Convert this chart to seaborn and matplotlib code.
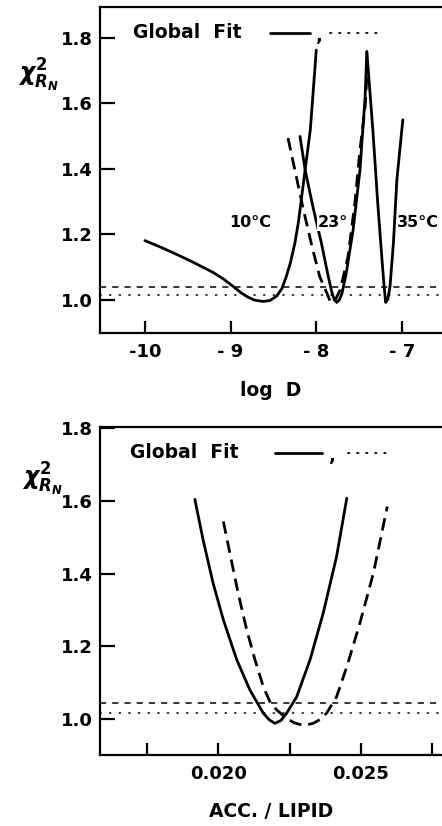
import numpy as np
import pandas as pd
import matplotlib
matplotlib.use("Agg")
import matplotlib.pyplot as plt
import seaborn as sns

# --- data -------------------------------------------------------------------
# top panel: chi^2 vs log D at three temperatures
logd_10 = [-10.00, -9.80, -9.59, -9.40, -9.20, -9.08, -8.97, -8.88, -8.81, -8.72, -8.62,
           -8.54, -8.46, -8.40, -8.35, -8.30, -8.25, -8.21, -8.18, -8.13, -8.07, -8.035, -8.00]
chi_10 = [1.181, 1.159, 1.134, 1.110, 1.083, 1.063, 1.041, 1.022, 1.010, 0.999, 0.995,
          0.998, 1.012, 1.035, 1.071, 1.115, 1.173, 1.235, 1.295, 1.397, 1.519, 1.640, 1.763]

logd_23 = [-8.19, -8.13, -8.04, -7.94, -7.86, -7.82, -7.79, -7.76, -7.73, -7.70,
           -7.65, -7.57, -7.49, -7.43, -7.41]
chi_23 = [1.499, 1.397, 1.285, 1.173, 1.071, 1.025, 1.000, 0.992, 1.000, 1.020,
          1.082, 1.214, 1.397, 1.621, 1.758]

logd_23_dash = [-8.33, -8.25, -8.15, -8.05, -7.96, -7.90, -7.86, -7.84, -7.81, -7.77,
                -7.72, -7.63, -7.55, -7.49, -7.43, -7.41]
chi_23_dash = [1.494, 1.397, 1.275, 1.163, 1.071, 1.035, 1.010, 0.996, 0.990, 1.004,
               1.031, 1.132, 1.295, 1.458, 1.590, 1.682]

logd_35 = [-7.41, -7.34, -7.28, -7.23, -7.21, -7.19, -7.165, -7.14, -7.10, -7.06, -6.99]
chi_35 = [1.758, 1.519, 1.285, 1.112, 1.045, 0.992, 1.002, 1.040, 1.173, 1.366, 1.550]

temp_labels = ["10°C", "23°", "35°C"]
temp_label_x = [-8.77, -7.81, -6.81]
temp_label_y = [1.235, 1.235, 1.235]

# bottom panel: chi^2 vs acceptor / lipid ratio
acc_solid = [0.01918, 0.01947, 0.01982, 0.02018, 0.02065, 0.02111, 0.02158, 0.02180, 0.02199,
             0.02220, 0.02240, 0.02275, 0.02322, 0.02368, 0.02415, 0.02451]
chi_acc_solid = [1.605, 1.493, 1.374, 1.273, 1.163, 1.080, 1.016, 0.997, 0.988,
                 0.996, 1.016, 1.061, 1.163, 1.291, 1.447, 1.608]

acc_dash = [0.02018, 0.02041, 0.02070, 0.02100, 0.02129, 0.02158, 0.02181, 0.02205, 0.02240,
            0.02265, 0.02287, 0.02310, 0.02333, 0.02358, 0.02380, 0.02415, 0.02451, 0.02497,
            0.02544, 0.02593]
chi_acc_dash = [1.544, 1.456, 1.346, 1.245, 1.163, 1.089, 1.048, 1.025, 1.002,
                0.990, 0.985, 0.984, 0.988, 0.999, 1.016, 1.061, 1.144, 1.264,
                1.401, 1.585]

# significance levels (dashed, dotted)
levels_top = [1.040, 1.015]
levels_bottom = [1.044, 1.016]

top_xticks = [-10, -9, -8, -7]
top_xticklabels = ["-10", "- 9", "- 8", "- 7"]
bottom_xticks = [0.0175, 0.020, 0.0225, 0.025, 0.0275]
bottom_xticklabels = ["", "0.020", "", "0.025", ""]
yticks_chi = [1.0, 1.2, 1.4, 1.6, 1.8]
ytick_labels = ["1.0", "1.2", "1.4", "1.6", "1.8"]

# --- style ------------------------------------------------------------------
sns.set_style("ticks")
plt.rcParams["font.family"] = ["DejaVu Sans"]
plt.rcParams["font.weight"] = "bold"
plt.rcParams["axes.labelweight"] = "bold"
plt.rcParams["mathtext.default"] = "it"
for key in ["text.color", "axes.labelcolor", "xtick.color", "ytick.color", "axes.edgecolor"]:
    plt.rcParams[key] = "black"
FS = 13
LW = 2.0
DASH = (4.5, 2.5)

fig = plt.figure(figsize=(4.42, 8.26), dpi=100)
ax1 = fig.add_axes([0.226, 0.597, 0.774, 0.3947])
ax2 = fig.add_axes([0.226, 0.086, 0.774, 0.397])


def draw_curve(ax, x, y, dashed=False):
    df = pd.DataFrame({"x": x, "y": y})
    line = sns.lineplot(data=df, x="x", y="y", ax=ax, color="black", lw=LW,
                        estimator=None, sort=False, legend=False)
    if dashed:
        line.lines[-1].set_dashes(DASH)


def draw_levels(ax, levels):
    ax.axhline(levels[0], color="black", lw=1.1, dashes=(4, 4))
    ax.axhline(levels[1], color="black", lw=1.1, dashes=(0.8, 5.5), dash_capstyle="round")


def style_axes(ax):
    for side in ["top", "left", "bottom"]:
        ax.spines[side].set_linewidth(1.6)
    ax.spines["right"].set_visible(False)
    ax.tick_params(axis="y", direction="in", length=11, width=1.6, pad=5, labelsize=FS)
    ax.tick_params(axis="x", direction="in", length=9, width=1.6, pad=7, labelsize=FS)
    ax.set_yticks(yticks_chi)
    ax.set_yticklabels(ytick_labels)
    ax.set_ylabel("")


def draw_key(ax, x0, y0, xs, xc, xd):
    # "Global Fit ——, ······" key
    ax.text(x0, y0, "Global  Fit", transform=ax.transAxes, fontsize=FS + 0.5,
            ha="left", va="center")
    ax.plot(xs, [y0, y0], transform=ax.transAxes, color="black", lw=LW)
    ax.text(xc, y0 - 0.01, ",", transform=ax.transAxes, fontsize=FS,
            ha="center", va="center")
    ax.plot(xd, [y0, y0], transform=ax.transAxes, color="black", lw=1.3,
            dashes=(0.8, 4.2), dash_capstyle="round")


# --- top panel ----------------------------------------------------------------
draw_levels(ax1, levels_top)
draw_curve(ax1, logd_10, chi_10)
draw_curve(ax1, logd_23, chi_23)
draw_curve(ax1, logd_23_dash, chi_23_dash, dashed=True)
draw_curve(ax1, logd_35, chi_35)
for lab, tx, ty in zip(temp_labels, temp_label_x, temp_label_y):
    ax1.text(tx, ty, lab, fontsize=FS - 1.5, ha="center", va="center",
             bbox=dict(facecolor="white", edgecolor="none", pad=0.5))
ax1.set_xlim(-10.525, -6.533)
ax1.set_ylim(0.899, 1.895)
style_axes(ax1)
ax1.set_xticks(top_xticks)
ax1.set_xticklabels(top_xticklabels)
ax1.set_xlabel("log  D", fontsize=FS + 0.5, labelpad=15)
draw_key(ax1, 0.096, 0.92, [0.497, 0.614], 0.643, [0.673, 0.81])
fig.text(0.086, 0.909, r"$\chi^2_{R_N}$", fontsize=FS + 4, ha="center", va="center")

# --- bottom panel -------------------------------------------------------------
draw_levels(ax2, levels_bottom)
draw_curve(ax2, acc_solid, chi_acc_solid)
draw_curve(ax2, acc_dash, chi_acc_dash, dashed=True)
ax2.set_xlim(0.015849, 0.027849)
ax2.set_ylim(0.901, 1.804)
style_axes(ax2)
ax2.set_xticks(bottom_xticks)
ax2.set_xticklabels(bottom_xticklabels)
ax2.set_xlabel("ACC. / LIPID", fontsize=FS + 0.5, labelpad=14)
draw_key(ax2, 0.088, 0.921, [0.512, 0.649], 0.681, [0.725, 0.854])
fig.text(0.095, 0.419, r"$\chi^2_{R_N}$", fontsize=FS + 4, ha="center", va="center")

fig.savefig("out.png", dpi=100)
